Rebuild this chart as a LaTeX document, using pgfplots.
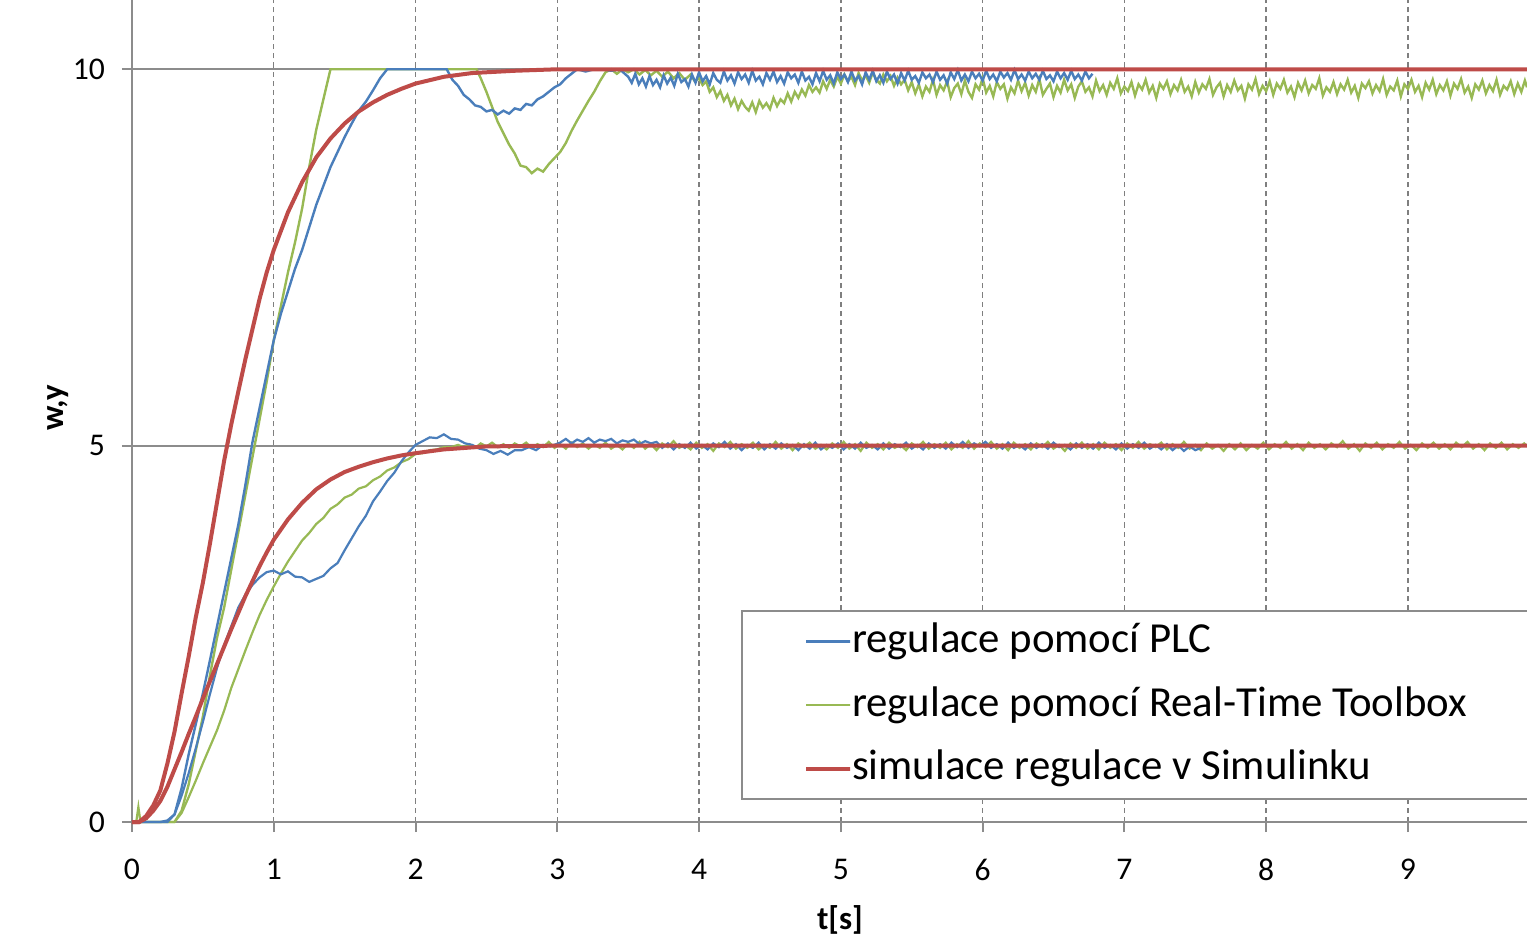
\documentclass[border=0pt]{standalone}
\usepackage{pgfplots}
\pgfplotsset{compat=1.18}
\usepackage{fontspec}
\setmainfont{Carlito}

\definecolor{plcblue}{HTML}{4A7EBB}
\definecolor{rtgreen}{HTML}{98B954}
\definecolor{simred}{HTML}{BE4B48}
\definecolor{axisgray}{HTML}{8C8C8C}
\definecolor{gridgray}{HTML}{7F7F7F}

\begin{document}
\begin{tikzpicture}
\begin{axis}[
    name=ax,
    scale only axis,
    width=348.75pt, height=205.5pt,
    xmin=0, xmax=9.84,
    ymin=0, ymax=10.92,
    axis lines=left,
    axis line style={-, draw=axisgray, line width=0.5pt},
    clip=false,
    xtick={0,...,9}, ytick={0,5,10},
    tick align=outside,
    major tick length=2.5pt,
    tick style={axisgray, line width=0.5pt},
    xmajorgrids, ymajorgrids,
    x grid style={dash pattern=on 1.3pt off 1pt, gridgray, line width=0.35pt},
    y grid style={axisgray, line width=0.5pt},
    ticklabel style={font=\fontsize{7.9}{9}\selectfont},
    /pgf/number format/assume math mode=true,
    xticklabel style={yshift=-3.25pt},
    yticklabel style={xshift=-0.75pt},
    xlabel={\textbf{t[s]}}, ylabel={\textbf{w,y}},
    label style={font=\fontsize{8.2}{10}\selectfont},
    xlabel style={at={(axis description cs:0.5075,-0.119)}, anchor=center},
    ylabel style={at={(axis description cs:-0.053,0.504)}, anchor=center},
    legend cell align=left,
    legend style={at={(0.4366,0.2579)}, anchor=north west,
        draw=axisgray, fill=white, line width=0.5pt,
        inner xsep=15.5pt, inner ysep=2.35pt, row sep=5.4pt,
        font=\fontsize{10.7}{13}\selectfont,
        nodes={inner sep=0pt, text height=8pt, text depth=2.5pt}},
    legend image code/.code={
        \draw[#1] (0pt,0pt) -- (10.5pt,0pt);
        \path (0pt,0pt) rectangle (11pt,0pt);},
]

% --- regulace pomocí Real-Time Toolbox, w = 5
\addplot[rtgreen, line width=0.55pt, forget plot] coordinates {
(0,0) (0.03,0) (0.045,0.2) (0.06,0) (0.3,0) (0.35,0.12) (0.4,0.33) (0.45,0.55)
(0.5,0.78) (0.55,1.0) (0.6,1.22) (0.65,1.48) (0.7,1.78) (0.75,2.03) (0.8,2.28)
(0.85,2.52) (0.9,2.75) (0.95,2.95) (1.0,3.13) (1.05,3.3) (1.1,3.46) (1.15,3.6)
(1.2,3.74) (1.25,3.84) (1.3,3.96) (1.35,4.04) (1.4,4.16) (1.45,4.22) (1.5,4.31)
(1.55,4.35) (1.6,4.43) (1.65,4.46) (1.7,4.54) (1.75,4.59) (1.8,4.67) (1.85,4.71)
(1.9,4.78) (1.95,4.82) (2.0,4.89) (2.05,4.9) (2.1,4.94) (2.15,4.95) (2.2,4.98)
(2.25,4.98) (2.3,5.01)
(2.34,4.98) (2.38,5.02) (2.42,4.97) (2.46,5.03) (2.50,4.99) (2.54,5.04) (2.58,4.98)
(2.62,5.02) (2.66,4.97) (2.70,5.03) (2.74,4.99) (2.78,5.04) (2.82,4.97) (2.86,5.02)
(2.90,4.98) (2.94,5.05) (2.98,4.97) (3.02,5.02) (3.06,4.96) (3.10,5.04) (3.14,4.98)
(3.18,5.03) (3.22,4.96) (3.26,5.02) (3.30,4.97) (3.34,5.04) (3.38,4.96) (3.42,5.01)
(3.46,4.95) (3.50,5.03) (3.54,4.97) (3.58,5.05) (3.62,4.96) (3.66,5.02) (3.70,4.94)
(3.74,5.03) (3.78,4.98) (3.82,5.06) (3.86,4.97) (3.90,5.01) (3.94,4.95) (3.98,5.04)
(4.02,4.97) (4.06,5.02) (4.10,4.93) (4.14,5.03) (4.18,4.98) (4.22,5.05) (4.26,4.96)
(4.30,5.02) (4.34,4.97) (4.38,5.04) (4.42,4.95) (4.46,5.01) (4.50,4.97) (4.54,5.05)
(4.58,4.96) (4.62,5.02) (4.66,4.94) (4.70,5.03) (4.74,4.98) (4.78,5.04) (4.82,4.96)
(4.86,5.01) (4.90,4.95) (4.94,5.03) (4.98,4.97) (5.02,5.05) (5.06,4.96) (5.10,5.02)
(5.14,4.93) (5.18,5.04) (5.22,4.97) (5.26,5.02) (5.30,4.95) (5.34,5.04) (5.38,4.97)
(5.42,5.01) (5.46,4.94) (5.50,5.03) (5.54,4.98) (5.58,5.05) (5.62,4.96) (5.66,5.02)
(5.70,4.97) (5.74,5.04) (5.78,4.95) (5.82,5.02) (5.86,4.97) (5.90,5.06) (5.94,4.96)
(5.98,5.03) (6.02,4.98) (6.06,5.05) (6.10,4.96) (6.14,5.02) (6.18,4.94) (6.22,5.04)
(6.26,4.97) (6.30,5.02) (6.34,4.95) (6.38,5.03) (6.42,4.98) (6.46,5.05) (6.50,4.96)
(6.54,5.01) (6.58,4.93) (6.62,5.03) (6.66,4.97) (6.70,5.04) (6.74,4.96) (6.78,5.02)
(6.82,4.95) (6.86,5.04) (6.90,4.97) (6.94,5.02) (6.98,4.94) (7.02,5.03) (7.06,4.97)
(7.10,5.05) (7.14,4.96) (7.18,5.02) (7.22,4.98) (7.26,5.04) (7.30,4.95) (7.34,5.02)
(7.38,4.97) (7.42,5.05) (7.46,4.96) (7.50,5.01) (7.54,4.94) (7.58,5.03) (7.62,4.96)
(7.66,5.01) (7.70,4.93) (7.74,5.02) (7.78,4.95) (7.82,5.03) (7.86,4.94) (7.90,5.01)
(7.94,4.96) (7.98,5.04) (8.02,4.95) (8.06,5.02) (8.10,4.97) (8.14,5.05) (8.18,4.96)
(8.22,5.02) (8.26,4.94) (8.30,5.04) (8.34,4.97) (8.38,5.02) (8.42,4.95) (8.46,5.03)
(8.50,4.98) (8.54,5.06) (8.58,4.96) (8.62,5.02) (8.66,4.93) (8.70,5.03) (8.74,4.97)
(8.78,5.04) (8.82,4.95) (8.86,5.02) (8.90,4.97) (8.94,5.05) (8.98,4.96) (9.02,5.01)
(9.06,4.94) (9.10,5.03) (9.14,4.97) (9.18,5.04) (9.22,4.96) (9.26,5.02) (9.30,4.95)
(9.34,5.04) (9.38,4.98) (9.42,5.05) (9.46,4.96) (9.50,5.02) (9.54,4.94) (9.58,5.03)
(9.62,4.97) (9.66,5.04) (9.70,4.95) (9.74,5.02) (9.78,4.97) (9.82,5.03) (9.84,4.99)
};

% --- regulace pomocí Real-Time Toolbox, w = 10
\addplot[rtgreen, line width=0.6pt, forget plot] coordinates {
(0,0) (0.3,0) (0.35,0.15) (0.4,0.5) (0.45,0.95) (0.5,1.4) (0.55,1.95) (0.6,2.45)
(0.65,2.85) (0.7,3.35) (0.75,3.85) (0.8,4.35) (0.85,4.85) (0.9,5.35) (0.95,5.85)
(1.0,6.4) (1.05,6.85) (1.1,7.3) (1.15,7.7) (1.2,8.15) (1.25,8.7) (1.3,9.2)
(1.35,9.6) (1.4,10) (2.43,10)
(2.46,9.88) (2.5,9.7) (2.54,9.5) (2.58,9.3) (2.62,9.15) (2.66,9.0) (2.7,8.88)
(2.74,8.72) (2.78,8.7) (2.82,8.62) (2.86,8.68) (2.9,8.64) (2.94,8.74) (2.98,8.82)
(3.02,8.9) (3.06,9.02) (3.1,9.18) (3.14,9.32) (3.18,9.45) (3.22,9.58) (3.26,9.7)
(3.3,9.84) (3.34,9.96) (3.38,10) (3.42,9.94) (3.46,10)
(3.50,9.96) (3.54,10) (3.58,9.93) (3.62,9.99) (3.66,9.92) (3.70,9.98) (3.74,9.90)
(3.78,9.97) (3.82,9.88) (3.86,9.95) (3.90,9.86) (3.94,9.93) (3.97,9.84)
(4.000,9.88) (4.025,9.79) (4.050,9.84) (4.075,9.70) (4.100,9.76) (4.125,9.63)
(4.150,9.71) (4.175,9.58) (4.200,9.66) (4.225,9.52) (4.250,9.61) (4.275,9.47)
(4.300,9.58) (4.325,9.50) (4.350,9.45) (4.375,9.56) (4.400,9.43) (4.425,9.58)
(4.450,9.49) (4.475,9.55) (4.500,9.47) (4.525,9.62) (4.550,9.51) (4.575,9.60)
(4.600,9.55) (4.625,9.68) (4.650,9.57) (4.675,9.70) (4.700,9.62) (4.725,9.73)
(4.750,9.65) (4.775,9.79) (4.800,9.70) (4.825,9.76) (4.850,9.69) (4.875,9.84)
(4.900,9.74) (4.925,9.86) (4.950,9.77) (4.975,9.90) (5.000,9.81) (5.025,9.93)
(5.050,9.84) (5.075,9.90) (5.100,9.79) (5.125,9.95) (5.150,9.85) (5.175,9.92)
(5.200,9.82) (5.225,9.96) (5.250,9.86) (5.275,9.81) (5.300,9.93) (5.325,9.84)
(5.350,9.91) (5.375,9.78) (5.400,9.89) (5.425,9.80) (5.450,9.86) (5.475,9.72)
(5.500,9.83) (5.525,9.68) (5.550,9.80) (5.575,9.64) (5.600,9.77) (5.625,9.70)
(5.650,9.86) (5.675,9.66) (5.700,9.79) (5.725,9.72) (5.750,9.84) (5.775,9.63)
(5.800,9.75) (5.825,9.81) (5.850,9.67) (5.875,9.85) (5.900,9.70) (5.925,9.62)
(5.950,9.80) (5.975,9.73) (6.000,9.88) (6.025,9.69) (6.050,9.78) (6.075,9.64)
(6.100,9.83) (6.125,9.74) (6.150,9.80) (6.175,9.61) (6.200,9.76) (6.225,9.68)
(6.250,9.85) (6.275,9.71) (6.300,9.82) (6.325,9.65) (6.350,9.79) (6.375,9.70)
(6.400,9.87) (6.425,9.66) (6.450,9.74) (6.475,9.81) (6.500,9.63) (6.525,9.78)
(6.550,9.69) (6.575,9.86) (6.600,9.72) (6.625,9.80) (6.650,9.62) (6.675,9.77)
(6.700,9.84) (6.725,9.70) (6.750,9.76) (6.775,9.64) (6.800,9.85) (6.825,9.71)
(6.850,9.79) (6.875,9.66) (6.900,9.82) (6.925,9.74) (6.950,9.88) (6.975,9.68)
(7.000,9.77) (7.025,9.71) (7.050,9.83) (7.075,9.65) (7.100,9.80) (7.125,9.73)
(7.150,9.86) (7.175,9.69) (7.200,9.78) (7.225,9.62) (7.250,9.81) (7.275,9.74)
(7.300,9.84) (7.325,9.67) (7.350,9.79) (7.375,9.72) (7.400,9.86) (7.425,9.70)
(7.450,9.77) (7.475,9.64) (7.500,9.83) (7.525,9.69) (7.550,9.80) (7.575,9.74)
(7.600,9.87) (7.625,9.66) (7.650,9.76) (7.675,9.82) (7.700,9.64) (7.725,9.79)
(7.750,9.70) (7.775,9.85) (7.800,9.72) (7.825,9.78) (7.850,9.61) (7.875,9.80)
(7.900,9.73) (7.925,9.87) (7.950,9.67) (7.975,9.78) (8.000,9.71) (8.025,9.84)
(8.050,9.66) (8.075,9.81) (8.100,9.74) (8.125,9.86) (8.150,9.69) (8.175,9.77)
(8.200,9.63) (8.225,9.82) (8.250,9.72) (8.275,9.85) (8.300,9.68) (8.325,9.79)
(8.350,9.74) (8.375,9.88) (8.400,9.65) (8.425,9.76) (8.450,9.70) (8.475,9.83)
(8.500,9.67) (8.525,9.80) (8.550,9.73) (8.575,9.86) (8.600,9.69) (8.625,9.78)
(8.650,9.62) (8.675,9.81) (8.700,9.75) (8.725,9.84) (8.750,9.68) (8.775,9.79)
(8.800,9.71) (8.825,9.87) (8.850,9.66) (8.875,9.77) (8.900,9.72) (8.925,9.85)
(8.950,9.64) (8.975,9.80) (9.000,9.74) (9.025,9.86) (9.050,9.70) (9.075,9.78)
(9.100,9.63) (9.125,9.82) (9.150,9.73) (9.175,9.86) (9.200,9.67) (9.225,9.79)
(9.250,9.72) (9.275,9.84) (9.300,9.65) (9.325,9.81) (9.350,9.74) (9.375,9.87)
(9.400,9.69) (9.425,9.77) (9.450,9.62) (9.475,9.80) (9.500,9.73) (9.525,9.85)
(9.550,9.68) (9.575,9.79) (9.600,9.71) (9.625,9.86) (9.650,9.66) (9.675,9.78)
(9.700,9.73) (9.725,9.84) (9.750,9.67) (9.775,9.81) (9.800,9.70) (9.825,9.85)
(9.840,9.76)
};

% --- regulace pomocí PLC, w = 5
\addplot[plcblue, line width=0.55pt, forget plot] coordinates {
(0,0) (0.25,0) (0.3,0.1) (0.35,0.35) (0.4,0.65) (0.45,0.98) (0.5,1.33) (0.55,1.7)
(0.6,2.05) (0.65,2.35) (0.7,2.6) (0.75,2.85) (0.8,3.02) (0.85,3.15) (0.9,3.25)
(0.95,3.32) (1.0,3.34) (1.05,3.29) (1.1,3.33) (1.15,3.26) (1.2,3.25) (1.25,3.19)
(1.3,3.23) (1.35,3.27) (1.4,3.37) (1.45,3.44) (1.5,3.61) (1.55,3.77) (1.6,3.93)
(1.65,4.07) (1.7,4.26) (1.75,4.39) (1.8,4.53) (1.85,4.64) (1.9,4.79) (1.95,4.91)
(2.0,5.01) (2.05,5.06) (2.1,5.11) (2.15,5.1) (2.2,5.15) (2.25,5.09) (2.3,5.08)
(2.35,5.03) (2.4,5.01) (2.45,4.96) (2.5,4.94) (2.55,4.89) (2.6,4.93) (2.65,4.88)
(2.7,4.94) (2.75,4.94) (2.8,4.98) (2.85,4.94) (2.9,5.01) (2.95,4.99)
(3.02,5.04) (3.06,5.09) (3.10,5.03) (3.14,5.08) (3.18,5.05) (3.22,5.10) (3.26,5.04)
(3.30,5.08) (3.34,5.06) (3.38,5.09) (3.42,5.03) (3.46,5.07) (3.50,5.05) (3.54,5.08)
(3.58,5.02) (3.62,5.06) (3.66,5.03) (3.70,5.05)
(3.74,4.97) (3.78,5.03) (3.82,4.95) (3.86,5.02) (3.90,4.97) (3.94,5.04) (3.98,4.96)
(4.02,5.01) (4.06,4.95) (4.10,5.03) (4.14,4.98) (4.18,5.05) (4.22,4.96) (4.26,5.02)
(4.30,4.94) (4.34,5.01) (4.38,4.97) (4.42,5.04) (4.46,4.95) (4.50,5.02) (4.54,4.96)
(4.58,5.03) (4.62,4.97) (4.66,5.01) (4.70,4.94) (4.74,5.02) (4.78,4.96) (4.82,5.04)
(4.86,4.95) (4.90,5.01) (4.94,4.97) (4.98,5.03) (5.02,4.95) (5.06,5.02) (5.10,4.96)
(5.14,5.04) (5.18,4.97) (5.22,5.01) (5.26,4.95) (5.30,5.03) (5.34,4.96) (5.38,5.02)
(5.42,4.98) (5.46,5.04) (5.50,4.96) (5.54,5.01) (5.58,4.95) (5.62,5.03) (5.66,4.97)
(5.70,5.02) (5.74,4.96) (5.78,5.04) (5.82,4.98) (5.86,5.05) (5.90,4.97) (5.94,5.03)
(5.98,4.99) (6.02,5.05) (6.06,4.97) (6.10,5.02) (6.14,4.96) (6.18,5.04) (6.22,4.97)
(6.26,5.01) (6.30,4.95) (6.34,5.03) (6.38,4.97) (6.42,5.02) (6.46,4.96) (6.50,5.04)
(6.54,4.98) (6.58,5.01) (6.62,4.95) (6.66,5.03) (6.70,4.97) (6.74,5.02) (6.78,4.96)
(6.82,5.04) (6.86,4.97) (6.90,5.01) (6.94,4.95) (6.98,5.03) (7.02,4.96) (7.06,5.02)
(7.10,4.97) (7.14,5.04) (7.18,4.96) (7.22,5.01) (7.26,4.95) (7.30,5.02) (7.34,4.94)
(7.38,5.00) (7.42,4.93) (7.46,4.99) (7.50,4.94) (7.54,4.97)
};

% --- regulace pomocí PLC, w = 10
\addplot[plcblue, line width=0.6pt, forget plot] coordinates {
(0,0) (0.2,0) (0.25,0.02) (0.3,0.1) (0.35,0.45) (0.4,0.9) (0.45,1.3) (0.5,1.71)
(0.55,2.15) (0.6,2.6) (0.65,3.05) (0.7,3.5) (0.75,3.95) (0.8,4.48) (0.85,5.05)
(0.9,5.5) (0.95,5.95) (1.0,6.4) (1.05,6.75) (1.1,7.05) (1.15,7.35) (1.2,7.6)
(1.25,7.9) (1.3,8.2) (1.35,8.45) (1.4,8.7) (1.45,8.9) (1.5,9.1) (1.55,9.28)
(1.6,9.45) (1.65,9.57) (1.7,9.72) (1.75,9.88) (1.8,10) (2.22,10)
(2.26,9.86) (2.3,9.78) (2.34,9.66) (2.38,9.6) (2.42,9.52) (2.46,9.5) (2.5,9.44)
(2.54,9.46) (2.58,9.4) (2.62,9.45) (2.66,9.41) (2.7,9.48) (2.74,9.46) (2.78,9.54)
(2.82,9.52) (2.86,9.6) (2.9,9.64) (2.94,9.7) (2.98,9.76) (3.02,9.8) (3.06,9.88)
(3.1,9.94) (3.14,10) (3.2,9.97) (3.26,10) (3.32,10) (3.38,9.98) (3.44,10) (3.47,9.95)
(3.500,9.90) (3.525,9.82) (3.550,9.94) (3.575,9.80) (3.600,9.88) (3.625,9.77)
(3.650,9.91) (3.675,9.79) (3.700,9.86) (3.725,9.76) (3.750,9.92) (3.775,9.81)
(3.800,9.89) (3.825,9.78) (3.850,9.94) (3.875,9.83) (3.900,9.87) (3.925,9.77)
(3.950,9.93) (3.975,9.82) (4.000,9.96) (4.025,9.84) (4.050,9.91) (4.075,9.80)
(4.100,9.95) (4.125,9.86) (4.150,9.82) (4.175,9.97) (4.200,9.85) (4.225,9.92)
(4.250,9.81) (4.275,9.96) (4.300,9.87) (4.325,9.93) (4.350,9.82) (4.375,9.98)
(4.400,9.85) (4.425,9.90) (4.450,9.80) (4.475,9.95) (4.500,9.86) (4.525,9.97)
(4.550,9.83) (4.575,9.91) (4.600,9.81) (4.625,9.96) (4.650,9.88) (4.675,9.93)
(4.700,9.82) (4.725,9.97) (4.750,9.85) (4.775,9.90) (4.800,9.80) (4.825,9.95)
(4.850,9.84) (4.875,9.98) (4.900,9.86) (4.925,9.92) (4.950,9.81) (4.975,9.96)
(5.000,9.87) (5.025,9.93) (5.050,9.83) (5.075,9.97) (5.100,9.85) (5.125,9.91)
(5.150,9.80) (5.175,9.96) (5.200,9.86) (5.225,9.98) (5.250,9.84) (5.275,9.92)
(5.300,9.82) (5.325,9.97) (5.350,9.87) (5.375,9.93) (5.400,9.81) (5.425,9.95)
(5.450,9.85) (5.475,9.98) (5.500,9.86) (5.525,9.91) (5.550,9.82) (5.575,9.96)
(5.600,9.88) (5.625,9.93) (5.650,9.83) (5.675,9.97) (5.700,9.86) (5.725,9.92)
(5.750,9.81) (5.775,9.96) (5.800,9.87) (5.825,9.99) (5.850,9.85) (5.875,9.93)
(5.900,9.84) (5.925,9.97) (5.950,9.88) (5.975,9.94) (6.000,9.85) (6.025,9.98)
(6.050,9.87) (6.075,9.93) (6.100,9.84) (6.125,9.97) (6.150,9.89) (6.175,9.95)
(6.200,9.86) (6.225,9.99) (6.250,9.87) (6.275,9.93) (6.300,9.85) (6.325,9.97)
(6.350,9.88) (6.375,9.94) (6.400,9.86) (6.425,9.98) (6.450,9.87) (6.475,9.92)
(6.500,9.84) (6.525,9.97) (6.550,9.88) (6.575,9.95) (6.600,9.86) (6.625,9.98)
(6.650,9.87) (6.675,9.93) (6.700,9.85) (6.725,9.97) (6.750,9.88) (6.775,9.94)
};

% --- simulace regulace v Simulinku, w = 5
\addplot[simred, line width=1.0pt, forget plot] coordinates {
(0,0) (0.05,0) (0.1,0.05) (0.15,0.15) (0.2,0.28) (0.25,0.47) (0.3,0.7) (0.35,0.93)
(0.4,1.17) (0.45,1.4) (0.5,1.64) (0.55,1.87) (0.6,2.1) (0.65,2.33) (0.7,2.56)
(0.75,2.78) (0.8,3.0) (0.85,3.2) (0.9,3.4) (0.95,3.58) (1.0,3.75) (1.1,4.02)
(1.2,4.24) (1.3,4.42) (1.4,4.55) (1.5,4.65) (1.6,4.72) (1.7,4.78) (1.8,4.83)
(1.9,4.87) (2.0,4.9) (2.2,4.95) (2.5,4.99) (3.0,5) (9.84,5)
};

% --- simulace regulace v Simulinku, w = 10
\addplot[simred, line width=1.0pt, forget plot] coordinates {
(0,0) (0.05,0) (0.1,0.08) (0.15,0.22) (0.2,0.42) (0.25,0.78) (0.3,1.2) (0.35,1.71)
(0.4,2.2) (0.45,2.72) (0.5,3.18) (0.55,3.7) (0.6,4.25) (0.65,4.8) (0.7,5.28)
(0.75,5.72) (0.8,6.15) (0.85,6.55) (0.9,6.95) (0.95,7.3) (1.0,7.6) (1.1,8.1)
(1.2,8.5) (1.3,8.83) (1.4,9.08) (1.5,9.28) (1.6,9.44) (1.7,9.56) (1.8,9.66)
(1.9,9.74) (2.0,9.81) (2.2,9.9) (2.4,9.95) (2.7,9.98) (3.0,10) (9.84,10)
};

\addlegendimage{plcblue, line width=0.55pt}
\addlegendentry{regulace pomocí PLC}
\addlegendimage{rtgreen, line width=0.55pt}
\addlegendentry{regulace pomocí Real-Time Toolbox\hspace*{6pt}}
\addlegendimage{simred, line width=1.0pt}
\addlegendentry{simulace regulace v Simulinku}
\end{axis}
\pgfresetboundingbox
\path[use as bounding box] ([xshift=-33pt,yshift=-28.5pt]ax.south west) rectangle (ax.north east);
\end{tikzpicture}
\end{document}
